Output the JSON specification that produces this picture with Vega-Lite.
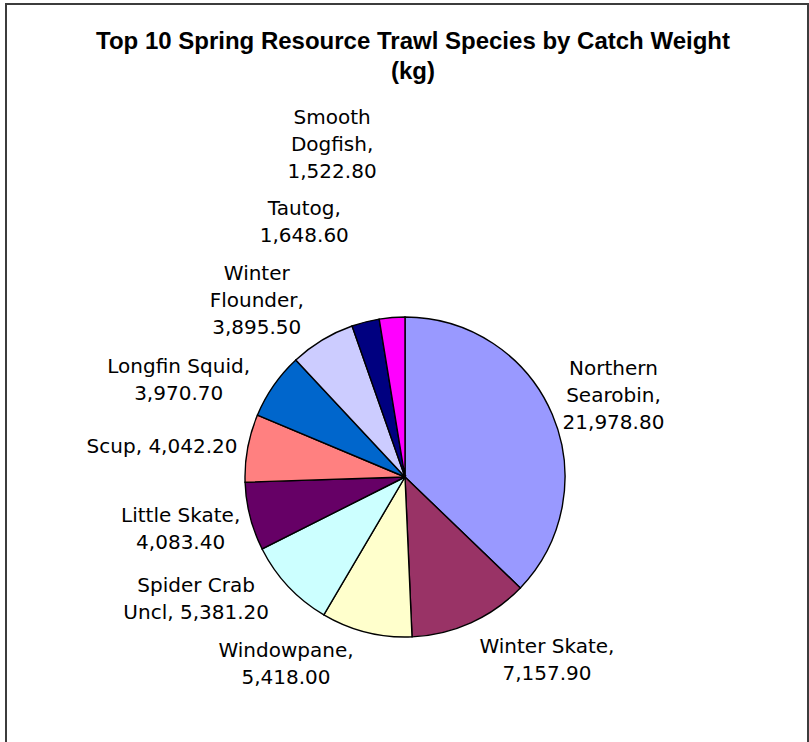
{
  "$schema": "https://vega.github.io/schema/vega-lite/v6.json",
  "width": 802,
  "height": 740,
  "autosize": {"type": "none"},
  "padding": {"left": 6, "top": 4, "right": 1, "bottom": -2},
  "background": "white",
  "view": {"stroke": "#3c3c3c", "strokeWidth": 2},
  "title": {
    "text": ["Top 10 Spring Resource Trawl Species by Catch Weight", "(kg)"],
    "font": "Liberation Sans",
    "fontSize": 24,
    "fontWeight": "bold",
    "color": "black",
    "lineHeight": 30,
    "anchor": "middle",
    "offset": -80,
    "dx": 6
  },
  "config": {
    "text": {"font": "DejaVu Sans", "fontSize": 20, "lineHeight": 27, "lineBreak": "\n", "color": "black", "baseline": "middle", "align": "center"}
  },
  "data": {
    "values": [
      {"species": "Northern Searobin", "weight": 21978.8, "label": "Northern\nSearobin,\n21,978.80"},
      {"species": "Winter Skate", "weight": 7157.9, "label": "Winter Skate,\n7,157.90"},
      {"species": "Windowpane", "weight": 5418.0, "label": "Windowpane,\n5,418.00"},
      {"species": "Spider Crab Uncl", "weight": 5381.2, "label": "Spider Crab\nUncl, 5,381.20"},
      {"species": "Little Skate", "weight": 4083.4, "label": "Little Skate,\n4,083.40"},
      {"species": "Scup", "weight": 4042.2, "label": "Scup, 4,042.20"},
      {"species": "Longfin Squid", "weight": 3970.7, "label": "Longfin Squid,\n3,970.70"},
      {"species": "Winter Flounder", "weight": 3895.5, "label": "Winter\nFlounder,\n3,895.50"},
      {"species": "Tautog", "weight": 1648.6, "label": "Tautog,\n1,648.60"},
      {"species": "Smooth Dogfish", "weight": 1522.8, "label": "Smooth\nDogfish,\n1,522.80"}
    ]
  },
  "encoding": {
    "theta": {"field": "weight", "type": "quantitative", "stack": true},
    "order": {"field": "weight", "type": "quantitative", "sort": "descending"}
  },
  "layer": [
    {
      "mark": {"type": "arc", "outerRadius": 160, "stroke": "black", "strokeWidth": 1.4, "xOffset": -2, "yOffset": 103},
      "encoding": {
        "color": {
          "field": "species",
          "type": "nominal",
          "scale": {
            "domain": ["Northern Searobin", "Winter Skate", "Windowpane", "Spider Crab Uncl", "Little Skate", "Scup", "Longfin Squid", "Winter Flounder", "Tautog", "Smooth Dogfish"],
            "range": ["#9999FF", "#993366", "#FFFFCC", "#CCFFFF", "#660066", "#FF8080", "#0066CC", "#CCCCFF", "#000080", "#FF00FF"]
          },
          "legend": null
        }
      }
    },
    {
      "mark": {"type": "text", "radius": 182, "dx": 41, "dy": -37, "xOffset": -2, "yOffset": 103},
      "encoding": {"text": {"condition": {"test": "datum.species === 'Northern Searobin'", "field": "label"}, "value": ""}}
    },
    {
      "mark": {"type": "text", "radius": 182, "dx": 67, "dy": 4, "xOffset": -2, "yOffset": 103},
      "encoding": {"text": {"condition": {"test": "datum.species === 'Winter Skate'", "field": "label"}, "value": ""}}
    },
    {
      "mark": {"type": "text", "radius": 182, "dx": -75, "dy": -3, "xOffset": -2, "yOffset": 103},
      "encoding": {"text": {"condition": {"test": "datum.species === 'Windowpane'", "field": "label"}, "value": ""}}
    },
    {
      "mark": {"type": "text", "radius": 182, "dx": -76, "dy": -15, "xOffset": -2, "yOffset": 103},
      "encoding": {"text": {"condition": {"test": "datum.species === 'Spider Crab Uncl'", "field": "label"}, "value": ""}}
    },
    {
      "mark": {"type": "text", "radius": 182, "dx": -48, "dy": -6, "xOffset": -2, "yOffset": 103},
      "encoding": {"text": {"condition": {"test": "datum.species === 'Little Skate'", "field": "label"}, "value": ""}}
    },
    {
      "mark": {"type": "text", "radius": 182, "dx": -64, "dy": 3, "xOffset": -2, "yOffset": 103},
      "encoding": {"text": {"condition": {"test": "datum.species === 'Scup'", "field": "label"}, "value": ""}}
    },
    {
      "mark": {"type": "text", "radius": 182, "dx": -77, "dy": -6, "xOffset": -2, "yOffset": 103},
      "encoding": {"text": {"condition": {"test": "datum.species === 'Longfin Squid'", "field": "label"}, "value": ""}}
    },
    {
      "mark": {"type": "text", "radius": 182, "dx": -54, "dy": -47, "xOffset": -2, "yOffset": 103},
      "encoding": {"text": {"condition": {"test": "datum.species === 'Winter Flounder'", "field": "label"}, "value": ""}}
    },
    {
      "mark": {"type": "text", "radius": 262, "dx": -36, "dy": -14, "xOffset": -2, "yOffset": 103},
      "encoding": {"text": {"condition": {"test": "datum.species === 'Tautog'", "field": "label"}, "value": ""}}
    },
    {
      "mark": {"type": "text", "radius": 333, "dx": -46, "dy": -27, "xOffset": -2, "yOffset": 103},
      "encoding": {"text": {"condition": {"test": "datum.species === 'Smooth Dogfish'", "field": "label"}, "value": ""}}
    }
  ]
}
